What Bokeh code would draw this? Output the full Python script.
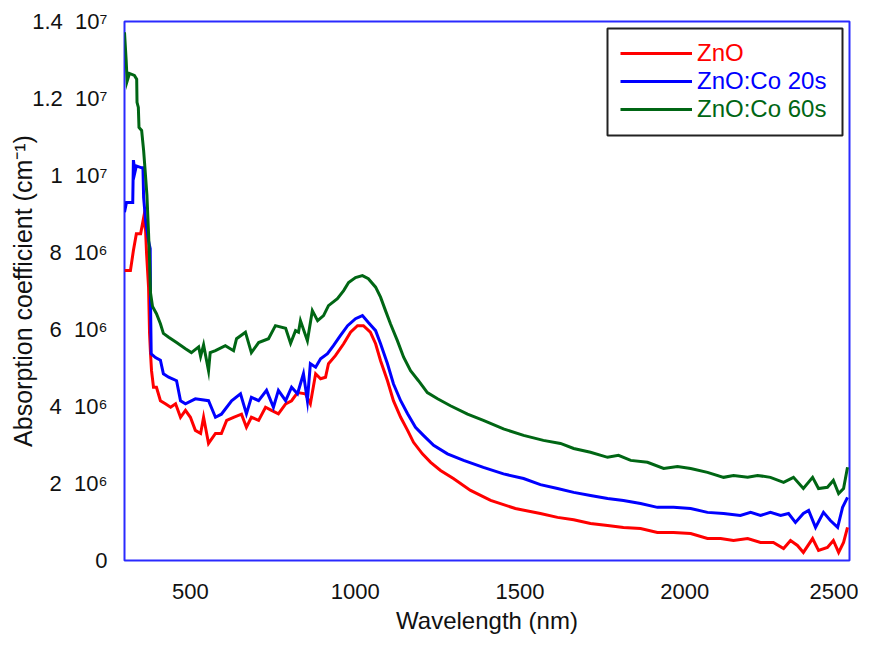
from bokeh.plotting import figure
from bokeh.models import Range1d, FixedTicker, Legend, LegendItem, BoxAnnotation
from bokeh.embed import file_html
from bokeh.resources import INLINE

# ---------------- data ----------------
series_names = ["ZnO", "ZnO:Co 20s", "ZnO:Co 60s"]
series_colors = ["#ff0000", "#0000ff", "#006614"]

zno_wl = [300, 318, 327, 336, 349, 358, 364, 367, 373, 376, 379, 382, 388, 397, 409, 424, 440, 455,
          470, 485, 500, 515, 531, 540, 555, 576, 594, 610, 631, 655, 670, 685, 707, 728, 746, 767,
          789, 807, 825, 849, 864, 880, 895, 910, 919, 940, 965, 986, 1007, 1025, 1046, 1062, 1077,
          1098, 1116, 1138, 1159, 1177, 1204, 1229, 1259, 1298, 1350, 1411, 1486, 1562, 1614, 1663,
          1714, 1766, 1814, 1866, 1917, 1966, 2018, 2069, 2109, 2148, 2191, 2230, 2269, 2300, 2321,
          2342, 2360, 2388, 2406, 2433, 2451, 2467, 2482, 2494]
zno_val = [7.53, 7.53, 8.05, 8.49, 8.49, 8.9, 8.57, 7.97, 7.1, 5.9, 5.37, 4.93, 4.5, 4.5, 4.15, 4.07, 3.98, 4.07,
           3.72, 3.9, 3.72, 3.38, 3.3, 3.72, 3.04, 3.3, 3.3, 3.64, 3.72, 3.8, 3.46, 3.72, 3.64, 3.98, 3.9, 3.81,
           4.07, 4.15, 4.36, 4.33, 4.07, 4.85, 4.72, 4.76, 5.11, 5.32, 5.63, 5.93, 6.1, 6.1, 5.93, 5.63, 5.19,
           4.67, 4.15, 3.72, 3.38, 3.07, 2.77, 2.55, 2.34, 2.13, 1.82, 1.56, 1.35, 1.22, 1.12, 1.06,
           0.96, 0.91, 0.86, 0.83, 0.73, 0.73, 0.7, 0.57, 0.57, 0.52, 0.57, 0.47, 0.47, 0.31, 0.52,
           0.39, 0.21, 0.57, 0.26, 0.34, 0.52, 0.21, 0.47, 0.86]

co20_wl = [300, 306, 321, 325, 327, 332, 336, 352, 356, 358, 364, 373, 378, 379, 381, 394, 409, 418, 434,
           458, 470, 485, 515, 555, 576, 594, 625, 652, 670, 685, 707, 731, 752, 767, 789, 807, 825, 843,
           855, 864, 880, 895, 916, 934, 955, 977, 1001, 1022, 1040, 1062, 1077, 1098, 1116, 1138, 1159,
           1183, 1207, 1238, 1280, 1329, 1389, 1450, 1511, 1562, 1614, 1663, 1714, 1766, 1814, 1866,
           1917, 1966, 2018, 2069, 2118, 2169, 2200, 2230, 2260, 2291, 2315, 2336, 2360, 2376, 2397,
           2421, 2442, 2464, 2479, 2494]
co20_val = [9.05, 9.3, 9.3, 9.3, 10.4, 10.1, 10.25, 10.2, 10.2, 9.43, 8.83, 8.3, 8.1, 6.67, 5.37, 5.27, 5.2, 4.85, 4.76,
            4.67, 4.15, 4.07, 4.2, 4.15, 3.72, 3.8, 4.15, 4.33, 3.81, 4.24, 4.15, 4.42, 3.98, 4.42, 4.15, 4.5, 4.33, 4.85,
            4.15, 5.11, 5.02, 5.24, 5.37, 5.58, 5.84, 6.1, 6.28, 6.36, 6.18, 5.97, 5.63, 5.11, 4.59, 4.15, 3.81,
            3.46, 3.25, 2.99, 2.77, 2.6, 2.42, 2.25, 2.13, 1.97, 1.87, 1.77, 1.69, 1.61, 1.56, 1.48,
            1.38, 1.38, 1.35, 1.25, 1.22, 1.17, 1.25, 1.17, 1.25, 1.17, 1.22, 0.99, 1.22, 1.3, 0.86,
            1.25, 1.04, 0.86, 1.38, 1.64]

co60_wl = [300, 305, 308, 315, 330, 337, 338, 342, 344, 352, 358, 362, 368, 373, 376, 379, 385, 397, 409,
           418, 434, 458, 485, 503, 525, 531, 540, 555, 560, 576, 606, 631, 640, 667, 685, 707, 737, 758,
           789, 804, 819, 828, 834, 855, 870, 886, 904, 919, 946, 965, 980, 1001, 1022, 1040, 1062, 1077,
           1092, 1107, 1128, 1147, 1168, 1192, 1219, 1250, 1289, 1341, 1389, 1450, 1511, 1571, 1623,
           1663, 1714, 1766, 1799, 1836, 1887, 1936, 1978, 2018, 2069, 2118, 2148, 2191, 2221, 2260,
           2300, 2330, 2360, 2388, 2406, 2433, 2451, 2467, 2482, 2494]
co60_val = [13.72, 13.0, 12.45, 12.65, 12.6, 12.5, 11.9, 11.77, 11.25, 11.17, 10.65, 10.2, 9.5, 8.5, 7.8, 6.95, 6.6, 6.41, 6.15,
            5.9, 5.8, 5.66, 5.5, 5.4, 5.55, 5.3, 5.6, 4.93, 5.4, 5.45, 5.58, 5.45, 5.76, 5.93, 5.4, 5.66, 5.76, 6.1,
            6.03, 5.64, 5.97, 5.93, 6.23, 5.71, 6.49, 6.23, 6.36, 6.62, 6.8, 7.01, 7.22, 7.35, 7.4, 7.32, 7.1, 6.84,
            6.49, 6.15, 5.71, 5.28, 4.93, 4.67, 4.36, 4.2, 4.02, 3.8, 3.64, 3.42, 3.25, 3.12, 3.04,
            2.91, 2.81, 2.68, 2.73, 2.6, 2.55, 2.39, 2.44, 2.39, 2.29, 2.16, 2.21, 2.16, 2.21, 2.16,
            2.03, 2.16, 1.87, 2.16, 1.87, 1.9, 2.08, 1.74, 1.87, 2.42]

value_scale = 1e6  # values above are in units of 10^6 cm^-1

x_ticks = [500, 1000, 1500, 2000, 2500]
y_ticks = [0, 2e6, 4e6, 6e6, 8e6, 1e7, 1.2e7, 1.4e7]
SP = "\u00a0\u00a0"
y_tick_labels = ["0", "2" + SP + "10\u2076", "4" + SP + "10\u2076", "6" + SP + "10\u2076", "8" + SP + "10\u2076",
                 "1" + SP + "10\u2077", "1.2" + SP + "10\u2077", "1.4" + SP + "10\u2077"]

x_title = "Wavelength (nm)"
y_title = "Absorption coefficient (cm\u207b\u00b9)"

FONT = "Liberation Sans"

# ---------------- figure ----------------
p = figure(width=858, height=636, output_backend="svg", toolbar_location=None,
           x_range=Range1d(300, 2500), y_range=Range1d(0, 1.4e7),
           min_border_left=124, min_border_right=9, min_border_top=21, min_border_bottom=76)

p.outline_line_color = "#2a2aff"
p.outline_line_width = 2
p.xgrid.visible = False
p.ygrid.visible = False
p.background_fill_color = "white"
p.border_fill_color = "white"

for ax in (p.xaxis[0], p.yaxis[0]):
    ax.axis_line_color = None
    ax.major_tick_line_color = None
    ax.minor_tick_line_color = None
    ax.major_tick_out = 0
    ax.major_tick_in = 0
    ax.minor_tick_out = 0
    ax.major_label_text_font = FONT
    ax.major_label_text_font_size = "22px"
    ax.major_label_text_color = "#111111"
    ax.axis_label_text_font = FONT
    ax.axis_label_text_font_style = "normal"
    ax.axis_label_text_color = "#111111"

p.xaxis.axis_label_text_font_size = "24px"
p.yaxis.axis_label_text_font_size = "25px"
p.xaxis.ticker = FixedTicker(ticks=x_ticks)
p.yaxis.ticker = FixedTicker(ticks=y_ticks)
p.yaxis.major_label_overrides = {t: lab for t, lab in zip(y_ticks, y_tick_labels)}
p.xaxis.axis_label = x_title
p.yaxis.axis_label = y_title
p.xaxis.major_label_standoff = 23
p.xaxis.axis_label_standoff = 5
p.yaxis.major_label_standoff = 17
p.yaxis.axis_label_standoff = -8

renderers = []
for wl, vals, col in [(zno_wl, zno_val, series_colors[0]),
                      (co20_wl, co20_val, series_colors[1]),
                      (co60_wl, co60_val, series_colors[2])]:
    r = p.line(wl, [v * value_scale for v in vals], line_color=col, line_width=3, line_join="miter")
    renderers.append(r)

# legend: one Legend per entry so each label can have its own colour
row_bottoms = [493, 465, 437]
for name, col, r, vy in zip(series_names, series_colors, renderers, row_bottoms):
    lg = Legend(items=[LegendItem(label=name, renderers=[r])], location=(496, vy),
                glyph_width=72, glyph_height=28, label_height=28, label_standoff=5,
                padding=0, margin=0, spacing=0,
                border_line_alpha=0, background_fill_alpha=0,
                label_text_font=FONT, label_text_font_size="24px", label_text_color=col)
    p.add_layout(lg, "center")

box = BoxAnnotation(left=483, right=718, top=532, bottom=425,
                    left_units="screen", right_units="screen", top_units="screen", bottom_units="screen",
                    fill_alpha=0, line_color="#222222", line_width=2, line_alpha=1)
p.add_layout(box)

open("out.html", "w").write(file_html(p, INLINE))
